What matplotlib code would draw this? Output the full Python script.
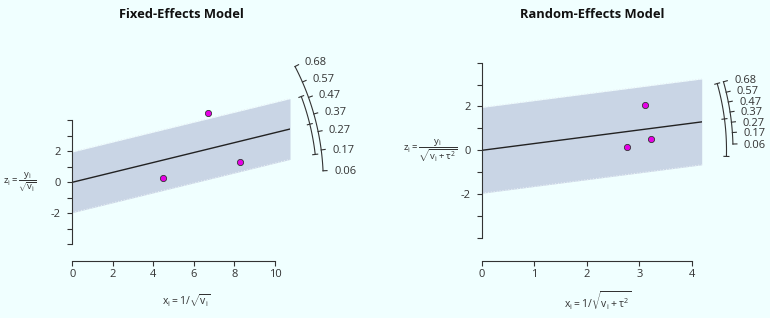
import numpy as np
import matplotlib.pyplot as plt

plt.rcParams['font.family'] = ['Open Sans', 'DejaVu Sans']
plt.rcParams['mathtext.fontset'] = 'custom'
plt.rcParams['mathtext.rm'] = 'Open Sans'
plt.rcParams['mathtext.it'] = 'Open Sans'
plt.rcParams['mathtext.bf'] = 'Open Sans:bold'

# fixed-effects panel: x_i = 1/sqrt(v_i), z_i = y_i/sqrt(v_i)
fe_x = [4.47, 6.70, 8.26]
fe_z = [0.28, 4.49, 1.31]
fe_est = 0.32
fe_ci = [0.15, 0.49]
fe_xticks = [0, 2, 4, 6, 8, 10]

# random-effects panel
re_x = [2.76, 3.10, 3.22]
re_z = [0.17, 2.07, 0.50]
re_est = 0.31
re_ci = [-0.06, 0.68]
re_xticks = [0, 1, 2, 3, 4]

# yi scale on the arc
arc_ticks = [0.06, 0.17, 0.27, 0.37, 0.47, 0.57, 0.68]

W, H = 770, 318
bg = '#f0ffff'
dark = '#333333'

fig = plt.figure(figsize=(W / 100, H / 100), dpi=100, facecolor=bg)


def radial(pos, x, z, est, ci, xticks, ylim, ylab, xlab, title):
    ax = fig.add_axes(pos)
    ax.set_facecolor('none')
    xend = 1.3 * max(x)
    ax.set_xlim(0, xend)
    ax.set_ylim(*ylim)

    xs = np.linspace(0, xend, 200)
    ax.fill_between(xs, est * xs - 1.96, est * xs + 1.96, color='#c9d5e5', lw=0)
    ax.plot(xs, est * xs + 1.96, ls=':', color='#e8eef5', lw=0.8)
    ax.plot(xs, est * xs - 1.96, ls=':', color='#e8eef5', lw=0.8)
    ax.plot(xs, est * xs, color='#222222', lw=1)
    ax.scatter(x, z, s=20, color='#e600e6', edgecolor=dark, lw=0.6, zorder=5, clip_on=False)

    # axes in R style
    for s in ['top', 'right']:
        ax.spines[s].set_visible(False)
    ax.spines['left'].set_bounds(-4, 4)
    ax.spines['bottom'].set_bounds(xticks[0], xticks[-1])
    for s in ['left', 'bottom']:
        ax.spines[s].set_color(dark)
        ax.spines[s].set_linewidth(0.8)
    ax.set_xticks(xticks)
    ax.set_yticks(range(-4, 5))
    ax.set_yticklabels(['', '', '-2', '', '0', '', '2', '', ''])
    ax.tick_params(direction='out', length=3.3, width=0.8, colors=dark, labelsize=8)
    ax.tick_params(axis='y', pad=5)
    ax.tick_params(axis='x', pad=3)

    # arc with the yi scale
    p = ax.get_position()
    px_x = p.width * W / xend
    px_y = p.height * H / (ylim[1] - ylim[0])

    def arc_pt(v, r):
        v = np.asarray(v, dtype=float)
        n = np.hypot(px_x, px_y * v)
        return r / n, r * v / n

    R = 251
    vs = np.linspace(min(arc_ticks), max(arc_ticks), 100)
    ax.plot(*arc_pt(vs, R), color=dark, lw=0.8, clip_on=False)
    for v in arc_ticks:
        x0, y0 = arc_pt(v, R)
        x1, y1 = arc_pt(v, R + 4)
        ax.plot([x0, x1], [y0, y1], color=dark, lw=0.8, clip_on=False)
        xt, yt = arc_pt(v, R + 11)
        ax.text(xt, yt - 0.1, f'{v:.2f}', ha='left', va='center', fontsize=8, color=dark)

    # arc for the confidence interval of the estimate
    Ri = 244.5
    vs = np.linspace(ci[0], ci[1], 100)
    ax.plot(*arc_pt(vs, Ri), color=dark, lw=0.8, clip_on=False)
    for v in [ci[0], est, ci[1]]:
        x0, y0 = arc_pt(v, Ri - 2.5)
        x1, y1 = arc_pt(v, Ri + 2.5)
        ax.plot([x0, x1], [y0, y1], color=dark, lw=0.8, clip_on=False)

    ax.annotate(ylab, xy=(0, 0), xycoords='data', xytext=(-52, 0), textcoords='offset pixels',
                ha='center', va='center', fontsize=6.8, color=dark)
    ax.annotate(xlab, xy=(0.525, 0), xycoords='axes fraction', xytext=(0, -40),
                textcoords='offset pixels', ha='center', va='center', fontsize=7.5, color=dark)
    fig.text(p.x0 + p.width / 2, 1 - 15 / H, title, ha='center', va='center',
             fontsize=9.3, fontweight='bold', color='#111111')
    return ax


radial([72.3 / W, 57.3 / H, 217.7 / W, 171.4 / H], fe_x, fe_z, fe_est, fe_ci, fe_xticks,
       (-5.06, 6.0), r'$z_i = \dfrac{y_i}{\sqrt{v_i}}$', r'$x_i = 1/\sqrt{v_i}$',
       'Fixed-Effects Model')
radial([482 / W, 57.3 / H, 219.7 / W, 200.2 / H], re_x, re_z, re_est, re_ci, re_xticks,
       (-5.04, 4.1), r'$z_i = \dfrac{y_i}{\sqrt{v_i + \tau^2}}$', r'$x_i = 1/\sqrt{v_i + \tau^2}$',
       'Random-Effects Model')

fig.savefig('out.png', dpi=100, facecolor=bg)
